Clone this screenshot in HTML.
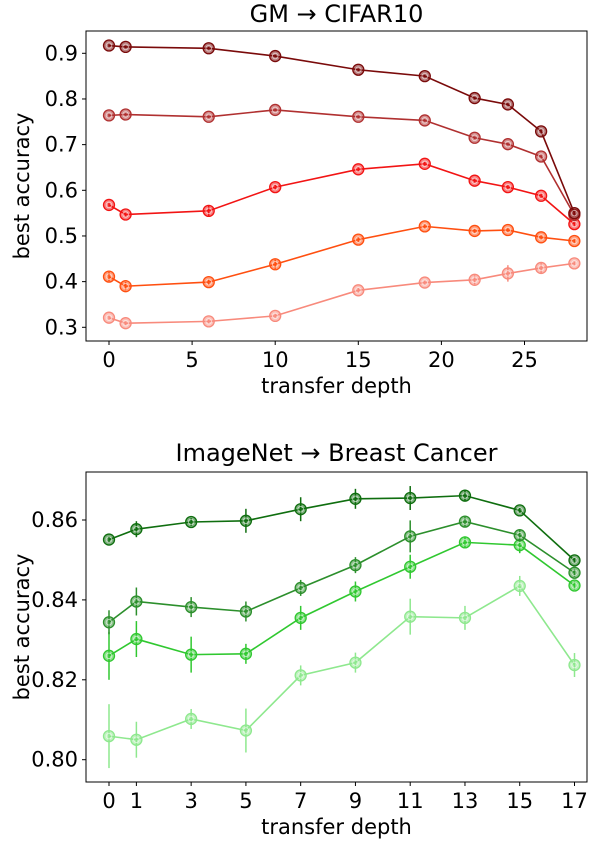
<!DOCTYPE html>
<html><head><meta charset="utf-8"><style>
html,body{margin:0;padding:0;background:#fff;}
svg text{font-family:"DejaVu Sans","Liberation Sans",sans-serif;fill:#000;}
</style></head><body>
<svg id="chart" width="600" height="840" viewBox="0 0 600 840" xmlns="http://www.w3.org/2000/svg"></svg>
<script>
// ---- Top chart data ----
const topDepths=[0,1,6,10,15,19,22,24,26,28];
const topSeriesA=[0.917,0.914,0.911,0.894,0.864,0.850,0.802,0.788,0.729,0.550];
const topSeriesB=[0.764,0.766,0.761,0.776,0.761,0.753,0.715,0.701,0.674,0.546];
const topSeriesC=[0.568,0.547,0.555,0.607,0.646,0.658,0.621,0.607,0.588,0.526];
const topSeriesD=[0.411,0.390,0.399,0.438,0.492,0.521,0.511,0.513,0.497,0.489];
const topSeriesE=[0.321,0.309,0.313,0.325,0.381,0.398,0.404,0.418,0.430,0.440];
const topErrA=[0.003,0.003,0.003,0.003,0.003,0.003,0.003,0.003,0.004,0.004];
const topErrB=[0.003,0.003,0.003,0.003,0.003,0.003,0.003,0.003,0.003,0.003];
const topErrC=[0.004,0.004,0.012,0.005,0.004,0.004,0.004,0.004,0.004,0.004];
const topErrD=[0.01,0.009,0.006,0.01,0.005,0.004,0.004,0.004,0.004,0.004];
const topErrE=[0.004,0.004,0.004,0.004,0.005,0.004,0.01,0.018,0.013,0.004];
const topXTicks=[0,5,10,15,20,25];
const topYTicks=[0.3,0.4,0.5,0.6,0.7,0.8,0.9];
// ---- Bottom chart data ----
const botDepths=[0,1,3,5,7,9,11,13,15,17];
const botSeriesA=[0.8551,0.8577,0.8595,0.8598,0.8627,0.8653,0.8655,0.8661,0.8624,0.8499];
const botSeriesB=[0.8344,0.8396,0.8382,0.8371,0.8430,0.8487,0.8559,0.8596,0.8562,0.8468];
const botSeriesC=[0.8260,0.8302,0.8263,0.8265,0.8355,0.8421,0.8483,0.8544,0.8537,0.8436];
const botSeriesD=[0.8059,0.8050,0.8102,0.8073,0.8211,0.8243,0.8358,0.8355,0.8435,0.8237];
const botErrA=[0.0008,0.002,0.001,0.003,0.003,0.0025,0.003,0.0015,0.0006,0.0006];
const botErrB=[0.003,0.0035,0.0025,0.0025,0.002,0.002,0.004,0.0012,0.0012,0.001];
const botErrC=[0.006,0.0045,0.0045,0.0025,0.003,0.0025,0.003,0.0015,0.002,0.001];
const botErrD=[0.008,0.0045,0.0025,0.0055,0.0025,0.0025,0.0045,0.003,0.0025,0.003];
const botXTicks=[0,1,3,5,7,9,11,13,15,17];
const botYTicks=[0.80,0.82,0.84,0.86];

const NS="http://www.w3.org/2000/svg";
const svg=document.getElementById('chart');
function mk(tag,attrs,parent){const e=document.createElementNS(NS,tag);for(const k in attrs)e.setAttribute(k,attrs[k]);(parent||svg).appendChild(e);return e;}

function drawPanel(cfg){
  const g=mk('g',{});
  
  
  const sx=v=>cfg.x0px+(v-cfg.x0)*(cfg.x1px-cfg.x0px)/(cfg.x1-cfg.x0);
  const sy=v=>cfg.y0px+(v-cfg.y0)*(cfg.y1px-cfg.y0px)/(cfg.y1-cfg.y0);
  const t=mk('text',{x:(cfg.L+cfg.R)/2,y:cfg.titleY,'font-size':24,'text-anchor':'middle'},g);
  t.textContent=cfg.title;
  
  
  const box=mk('rect',{x:cfg.L,y:cfg.T,width:cfg.R-cfg.L,height:cfg.B-cfg.T,fill:'none',stroke:'#000','stroke-width':1},g);
  
  
  cfg.xticks.forEach(v=>{
    mk('line',{x1:sx(v),x2:sx(v),y1:cfg.B,y2:cfg.B+4,stroke:'#000'},g);
    const tx=mk('text',{x:sx(v),y:cfg.B+26,'font-size':21,'text-anchor':'middle'},g);
    tx.textContent=v;
    
    
  });
  cfg.yticks.forEach(v=>{
    mk('line',{x1:cfg.L-4,x2:cfg.L,y1:sy(v),y2:sy(v),stroke:'#000'},g);
    const ty=mk('text',{x:cfg.L-8,y:sy(v)+7,'font-size':21,'text-anchor':'end'},g);
    ty.textContent=v.toFixed(cfg.dec);
    
    
  });
  const xl=mk('text',{x:(cfg.L+cfg.R)/2,y:cfg.B+52,'font-size':21,'text-anchor':'middle'},g);
  xl.textContent='transfer depth';
  
  
  const yc=(cfg.T+cfg.B)/2;
  const yl=mk('text',{x:22,y:yc+7,'font-size':21,'text-anchor':'middle',transform:`rotate(-90 22 ${yc})`},g);
  yl.textContent='best accuracy';
  
  
  for(let i=cfg.series.length-1;i>=0;i--){
    const s=cfg.series[i],err=cfg.errs[i],col=cfg.colors[i];
    const sg=mk('g',{},g);
    
    
    const pts=s.map((v,j)=>sx(cfg.xs[j])+','+sy(v)).join(' ');
    mk('polyline',{points:pts,fill:'none',stroke:col,'stroke-width':1.6},sg);
    s.forEach((v,j)=>{
      const cx=sx(cfg.xs[j]),cy=sy(v);
      mk('line',{x1:cx,x2:cx,y1:sy(v-err[j]),y2:sy(v+err[j]),stroke:col,'stroke-width':1.5},sg);
      const c=mk('circle',{cx:cx,cy:cy,r:5.5,fill:col,'fill-opacity':0.55,stroke:col,'stroke-width':1.3},sg);
      
      
      mk('circle',{cx:cx,cy:cy,r:2.8,fill:'none',stroke:'#fff','stroke-opacity':0.6,'stroke-width':0.9},sg);
    });
  }
}

drawPanel({name:'top-chart',title:'GM \u2192 CIFAR10',titleY:22,L:86,R:587,T:31,B:341,
  x0:0,x1:25,x0px:109,x1px:524.5,y0:0.3,y1:0.9,y0px:327.3,y1px:53.3,
  xticks:topXTicks,yticks:topYTicks,dec:1,xs:topDepths,
  series:[topSeriesA,topSeriesB,topSeriesC,topSeriesD,topSeriesE],
  errs:[topErrA,topErrB,topErrC,topErrD,topErrE],
  colors:['#7a0a0a','#b03030','#f21414','#ff4f10','#f88a7c']});
drawPanel({name:'bottom-chart',title:'ImageNet \u2192 Breast Cancer',titleY:461,L:86,R:587,T:472,B:782,
  x0:0,x1:17,x0px:109,x1px:574.5,y0:0.80,y1:0.86,y0px:759.7,y1px:520,
  xticks:botXTicks,yticks:botYTicks,dec:2,xs:botDepths,
  series:[botSeriesA,botSeriesB,botSeriesC,botSeriesD],
  errs:[botErrA,botErrB,botErrC,botErrD],
  colors:['#0f6e0f','#2c8f2c','#30c830','#8ee88e']});
</script>
</body></html>
